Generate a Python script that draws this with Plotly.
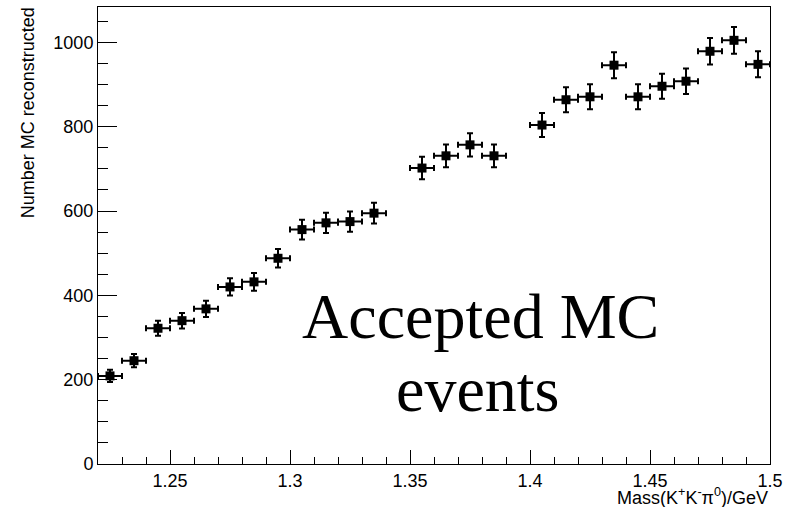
import plotly.graph_objects as go

# Bin centres (GeV) of the filled bins
mass_centers = [1.225, 1.235, 1.245, 1.255, 1.265, 1.275, 1.285, 1.295,
                1.305, 1.315, 1.325, 1.335,
                1.355, 1.365, 1.375, 1.385,
                1.405, 1.415, 1.425, 1.435, 1.445, 1.455, 1.465, 1.475,
                1.485, 1.495]
# Number of reconstructed MC events per bin
counts = [209, 245, 322, 340, 368, 420, 432, 488,
          556, 572, 575, 595,
          702, 731, 757, 731,
          804, 864, 871, 946, 871, 896, 908, 979,
          1005, 948]
# Statistical errors per bin
count_errors = [14.5, 15.7, 17.9, 18.4, 19.2, 20.5, 20.8, 22.1,
                23.6, 23.9, 24.0, 24.4,
                26.5, 27.0, 27.5, 27.0,
                28.4, 29.4, 29.5, 30.8, 29.5, 29.9, 30.1, 31.3,
                31.7, 30.8]
bin_half_width = 0.005

sans = "Liberation Sans, Arial, Helvetica, sans-serif"
serif = "Liberation Serif, Times New Roman, serif"

fig = go.Figure()
fig.add_trace(go.Scatter(
    x=mass_centers, y=counts, mode="markers",
    marker=dict(symbol="square", size=9, color="black"),
    error_y=dict(type="data", array=count_errors, color="black", thickness=2, width=3),
    error_x=dict(type="constant", value=bin_half_width, color="black", thickness=2, width=3),
    showlegend=False,
))

axis_common = dict(
    showgrid=False, zeroline=False, showline=True, mirror=True,
    linecolor="black", linewidth=1, ticks="inside", tickcolor="black",
    tickfont=dict(family=sans, size=18, color="black"),
)

fig.update_xaxes(
    range=[1.22, 1.5], tickmode="linear", tick0=1.25, dtick=0.05,
    ticklen=14, tickwidth=1,
    minor=dict(ticks="inside", dtick=0.01, ticklen=7, tickcolor="black", tickwidth=1),
    **axis_common,
)
fig.update_yaxes(
    range=[0, 1084], tickmode="linear", tick0=0, dtick=200,
    ticklen=19, tickwidth=1,
    minor=dict(ticks="inside", dtick=50, ticklen=10, tickcolor="black", tickwidth=1),
    **axis_common,
)

fig.update_layout(
    width=793, height=507,
    margin=dict(l=98, r=23, t=7, b=43, pad=0),
    paper_bgcolor="white", plot_bgcolor="white",
    annotations=[
        dict(text="Mass(K<sup>+</sup>K<sup>-</sup>π<sup>0</sup>)/GeV",
             xref="paper", yref="paper", x=1.0, y=0, xanchor="right", yanchor="middle",
             yshift=-32, showarrow=False, font=dict(family=sans, size=18, color="black")),
        dict(text="Number MC reconstructed", textangle=-90,
             xref="paper", yref="paper", x=-0.1046, y=1.0, xanchor="center", yanchor="top",
             yshift=2, showarrow=False, font=dict(family=sans, size=18, color="black")),
        dict(text="Accepted MC", xref="x", yref="y", x=1.3795, y=350,
             xanchor="center", yanchor="middle", showarrow=False,
             font=dict(family=serif, size=64, color="black")),
        dict(text="events", xref="x", yref="y", x=1.3782, y=176,
             xanchor="center", yanchor="middle", showarrow=False,
             font=dict(family=serif, size=64, color="black")),
    ],
)

fig.write_html("out.html")
